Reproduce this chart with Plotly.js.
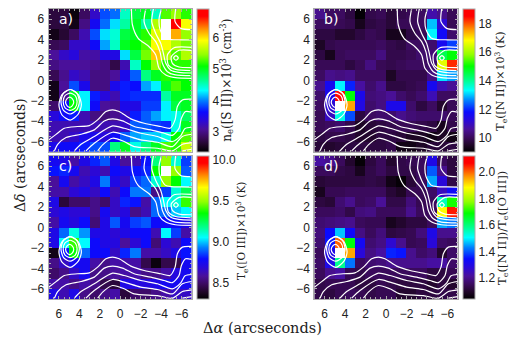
<!DOCTYPE html>
<html><head><meta charset="utf-8">
<script src="https://cdn.plot.ly/plotly-3.0.1.min.js"></script>
<style>html,body{margin:0;padding:0;background:#fff}</style></head>
<body><div id="chart" style="width:519px;height:343px"></div>
<script>
const xCenters=[6.5,5.5,4.5,3.5,2.5,1.5,0.5,-0.5,-1.5,-2.5,-3.5,-4.5,-5.5,-6.5];
const yCenters=[6.5,5.5,4.5,3.5,2.5,1.5,0.5,-0.5,-1.5,-2.5,-3.5,-4.5,-5.5,-6.5];
const tickVals=[6,4,2,0,-2,-4,-6];

const zA=[
[2.7,2.7,2.45,2.85,3.3,3.85,3.95,4.5,4.9,5.0,4.5,5.3,5.5,5.2],
[2.7,2.7,2.5,3.0,3.55,3.95,4.25,4.6,5.0,4.6,5.6,7.5,6.7,5.9],
[2.5,2.65,2.85,3.2,3.85,4.25,4.45,4.9,5.0,5.2,5.8,7.5,6.2,5.5],
[2.8,2.85,3.3,3.3,3.6,4.1,4.5,5.0,5.1,5.3,5.9,5.9,5.6,5.4],
[3.1,3.3,3.4,3.15,3.15,3.45,3.45,4.25,4.9,5.4,6.1,5.6,5.3,5.6],
[3.0,3.1,3.1,3.1,3.05,3.0,2.75,3.2,4.5,5.1,5.5,5.2,5.2,5.2],
[2.8,3.05,3.3,3.2,3.0,3.0,3.1,3.5,3.9,4.7,5.0,5.2,5.1,5.1],
[2.5,3.1,3.85,3.5,3.0,3.0,3.5,3.7,3.65,4.1,4.3,5.0,5.3,5.1],
[2.5,3.05,5.0,4.3,3.7,3.4,3.2,3.7,3.75,3.75,3.75,4.6,5.0,5.0],
[2.9,3.6,5.1,4.3,3.6,3.1,3.05,3.5,3.45,3.8,3.8,4.3,4.9,5.0],
[3.4,3.6,3.7,3.2,3.0,2.95,3.05,3.3,3.7,3.9,4.1,4.3,4.4,4.8],
[3.2,3.2,3.2,3.2,3.2,3.2,3.2,3.3,3.9,3.9,3.8,3.75,4.4,5.0],
[3.2,3.2,3.3,3.5,3.5,3.4,3.6,3.9,4.1,4.2,4.2,4.4,5.1,5.3],
[3.5,3.6,3.6,3.7,3.85,3.85,4.7,5.0,4.4,4.7,5.0,5.3,5.2,5.7]];
const zB=[
[10.5,10.1,10.1,9.8,9.1,9.9,10.0,9.7,9.9,10.0,10.1,10.8,10.5,10.0],
[10.1,10.1,10.0,9.9,9.4,9.8,9.9,9.7,10.0,10.0,10.1,13.0,11.2,10.0],
[9.8,9.8,9.6,9.6,9.8,10.0,9.9,9.4,9.4,9.8,10.0,13.3,11.7,10.2],
[9.5,9.9,10.0,10.0,10.0,10.0,10.1,9.9,9.8,10.1,10.1,10.2,11.6,12.2],
[9.8,9.4,10.0,10.1,10.1,10.1,10.4,9.9,9.9,10.0,10.2,10.3,14.5,15.0],
[10.0,10.0,10.0,9.8,10.0,10.4,10.0,9.9,10.0,10.1,10.1,10.2,16.6,18.3],
[10.1,10.5,10.4,10.5,10.1,10.1,10.1,9.5,9.9,9.9,9.9,10.4,13.2,12.8],
[10.5,11.6,13.3,12.0,10.7,10.2,10.5,9.8,9.8,9.9,10.0,11.6,10.9,10.6],
[10.2,11.5,18.5,15.0,11.5,10.3,10.4,10.6,10.2,10.0,10.2,10.9,10.1,10.1],
[10.1,11.2,20.0,17.5,11.4,10.2,10.4,11.5,11.5,10.2,9.8,10.1,9.6,10.0],
[10.0,11.0,13.5,12.3,9.8,10.1,10.2,10.2,10.5,10.3,10.2,10.2,10.2,10.0],
[10.0,10.1,10.2,9.9,9.5,9.7,9.8,9.9,10.0,10.0,9.9,9.8,9.4,9.9],
[9.8,9.9,9.9,9.8,9.6,9.6,9.8,9.8,9.7,9.5,9.5,9.3,9.5,9.3],
[9.7,9.6,9.7,9.8,9.8,9.8,9.8,9.9,9.3,9.3,9.5,9.7,9.7,9.8]];
const zC=[
[8.75,8.72,8.6,8.72,8.82,8.88,8.72,8.58,8.62,8.8,9.2,9.5,9.1,8.85],
[8.8,8.82,8.75,8.62,8.68,8.62,8.78,8.72,8.8,8.82,9.35,10.5,9.5,8.88],
[8.58,8.75,8.6,8.65,8.72,8.92,8.72,8.65,8.85,8.9,9.1,9.5,9.35,9.05],
[8.6,8.6,8.68,8.72,8.65,8.78,8.62,8.78,8.92,8.92,8.55,8.85,9.1,9.25],
[8.72,8.42,8.5,8.5,8.55,8.5,8.65,8.82,8.8,8.6,8.9,9.05,9.1,9.4],
[8.68,8.72,8.68,8.68,8.55,8.75,8.65,8.7,8.55,8.62,8.9,8.9,9.0,9.05],
[8.6,8.75,8.7,8.78,8.52,8.72,8.88,8.75,8.85,8.88,8.78,8.78,8.78,8.72],
[8.72,8.9,9.08,8.95,8.72,8.72,8.68,8.72,8.78,8.78,8.62,9.05,8.85,8.6],
[8.72,9.05,9.4,9.05,8.78,8.72,8.7,8.58,8.68,8.78,8.52,8.68,8.62,8.78],
[8.35,8.8,9.35,8.9,8.78,8.78,8.65,8.82,8.92,8.6,8.6,8.65,8.72,8.8],
[8.55,8.65,8.75,8.75,8.6,8.55,8.6,8.6,8.6,8.45,8.33,8.45,8.45,8.75],
[8.5,8.55,8.65,8.75,8.55,8.55,8.58,8.6,8.6,8.55,8.55,8.6,8.7,8.75],
[8.6,8.6,8.55,8.6,8.55,8.45,8.42,8.72,8.7,8.7,8.72,8.75,8.75,8.75],
[8.72,8.62,8.72,8.55,8.5,8.55,8.6,8.42,8.5,8.5,8.55,8.6,8.65,8.65]];
const zD=[
[1.22,1.2,1.15,1.1,1.05,1.12,1.15,1.1,1.13,1.14,1.15,1.3,1.15,1.12],
[1.15,1.15,1.13,1.12,1.08,1.13,1.15,1.12,1.13,1.13,1.15,1.4,1.2,1.12],
[1.11,1.12,1.12,1.12,1.12,1.13,1.12,1.07,1.05,1.11,1.15,1.45,1.28,1.13],
[1.08,1.14,1.14,1.15,1.15,1.15,1.15,1.11,1.09,1.14,1.14,1.16,1.25,1.33],
[1.12,1.11,1.17,1.2,1.15,1.16,1.21,1.13,1.13,1.18,1.14,1.15,1.55,1.7],
[1.15,1.15,1.16,1.13,1.18,1.19,1.15,1.15,1.15,1.2,1.15,1.15,1.88,2.05],
[1.17,1.18,1.19,1.2,1.15,1.14,1.14,1.08,1.1,1.12,1.12,1.15,1.45,1.42],
[1.18,1.34,1.47,1.33,1.19,1.15,1.18,1.12,1.13,1.14,1.18,1.3,1.2,1.2],
[1.17,1.35,2.0,1.68,1.32,1.17,1.19,1.27,1.2,1.14,1.15,1.28,1.16,1.15],
[1.15,1.3,2.3,1.95,1.28,1.19,1.22,1.36,1.35,1.2,1.16,1.18,1.1,1.16],
[1.16,1.3,1.58,1.42,1.15,1.17,1.18,1.2,1.2,1.2,1.2,1.22,1.22,1.16],
[1.15,1.2,1.22,1.14,1.13,1.15,1.15,1.15,1.15,1.15,1.15,1.12,1.12,1.14],
[1.13,1.14,1.14,1.14,1.12,1.12,1.14,1.13,1.12,1.12,1.12,1.1,1.12,1.1],
[1.13,1.12,1.14,1.15,1.14,1.13,1.14,1.14,1.1,1.1,1.12,1.12,1.13,1.13]];

const rangeA=[2.37,6.93], rangeB=[9.04,19.05], rangeC=[8.30,10.05], rangeD=[1.04,2.12];
const ticksA=[3,4,5,6], ticksB=[10,12,14,16,18], ticksC=[8.5,9.0,9.5,10.0], ticksD=[1.2,1.4,1.6,1.8,2.0];
const fmtC=['8.5','9.0','9.5','10.0'], fmtD=['1.2','1.4','1.6','1.8','2.0'];
const labelA='n<sub>e</sub>([S II])×10<sup>3</sup> (cm<sup>-3</sup>)';
const labelB='T<sub>e</sub>([N II])×10<sup>3</sup> (K)';
const labelC='T<sub>e</sub>([O III])×10<sup>3</sup> (K)';
const labelD='T<sub>e</sub>([N II])/T<sub>e</sub>([O III])';

// contour levels, in arcseconds
const contours=[
 [[-1.1,-1.2,-1.76,-2.83,-3.48,-3.8,-4.46,-5.4,-7],[7,5.43,4.12,3.3,2.49,1.18,0.53,0.27,0.2]],
 [[-2.5,-2.34,-2.83,-3.48,-3.9,-4.13,-4.62,-5.4,-7],[7,5.76,4.6,3.8,2.8,1.67,0.85,0.53,0.46]],
 [[-3.25,-3.09,-3.48,-3.97,-4.23,-4.46,-4.95,-5.76,-7],[7,5.76,4.6,3.63,2.65,1.67,1.0,0.79,0.72]],
 [[-4.04,-3.81,-3.9,-4.4,-5.0,-6,-7],[7,6.08,5.0,4.15,4.0,3.98,3.96]],
 [[-5.43,-5.37,-5.92,-7],[7,5.76,5.1,4.97]],
 [[-7,-5.27,-4.62,-4.72,-5.43,-7],[3.24,3.2,2.49,1.5,1.08,0.95]],
 [[-7,-5.76,-5.0,-5.11,-5.76,-7],[2.95,2.95,2.32,1.67,1.31,1.25]],
 [[-5.23,-5.46,-5.69,-5.46,-5.23],[2.2,2.43,2.2,1.97,2.2]],
 [[6.0,5.7,4.9,4.1,3.8,4.1,4.9,5.7,6.0],[-2.4,-1.4,-0.9,-1.4,-2.4,-3.3,-3.9,-3.4,-2.4]],
 [[5.8,5.55,4.9,4.25,4.0,4.25,4.9,5.55,5.8],[-2.1,-1.25,-0.9,-1.25,-2.1,-2.9,-3.3,-2.95,-2.1]],
 [[5.58,5.4,4.9,4.4,4.22,4.4,4.9,5.4,5.58],[-2.1,-1.5,-1.25,-1.5,-2.1,-2.7,-2.95,-2.7,-2.1]],
 [[5.35,5.2,4.95,4.7,4.55,4.7,4.95,5.2,5.35],[-2.15,-1.8,-1.65,-1.8,-2.15,-2.5,-2.65,-2.5,-2.15]],
 [[-7,-6.09,-5.6,-5.37,-4.88,-3.97,-2.35,-1.04,0.1,0.75,1.4,2.21,3.03,4.17,5.47,6.28,7],
  [-1.85,-1.92,-2.57,-3.88,-4.7,-4.53,-4.21,-3.78,-3.06,-2.9,-3.06,-3.88,-4.44,-4.53,-4.7,-5.3,-5.84]],
 [[-7,-6.4,-5.99,-5.76,-5.11,-4.3,-3,-1.37,-0.23,0.75,1.56,2.54,3.84,5.3,6.12,6.44],
  [-3.13,-3.06,-3.72,-4.7,-5.4,-5.19,-4.86,-4.53,-3.98,-3.78,-3.98,-4.86,-5.29,-5.61,-6.27,-6.92]],
 [[-7,-6.35,-5.93,-5.11,-3.65,-2.02,-0.39,0.75,2.54,3.84,4.49],
  [-4.6,-4.72,-5.42,-6.0,-5.51,-5.19,-4.7,-4.47,-5.51,-6.27,-6.92]],
 [[-7,-6.09,-5.11,-3.65,-2.02,-0.39,0.75,2.54,3.35],
  [-5.29,-5.51,-6.5,-6.07,-5.84,-5.35,-5.09,-6.17,-6.92]],
 [[-7,-6.09,-5.11,-3.65,-1.37,-0.39,0.75,1.72,2.2],
  [-6.1,-6.27,-6.92,-6.66,-6.5,-6.0,-5.68,-6.33,-6.92]],
 [[-7,-6.09],[-6.76,-6.92]]
];

const rainbow=[[0,'#000000'],[0.05,'#200628'],[0.1,'#3a0a5a'],[0.16,'#4a109a'],[0.22,'#2a08d8'],[0.28,'#0a0aff'],
 [0.36,'#0080ff'],[0.43,'#00ffff'],[0.5,'#00ff90'],[0.6,'#00ff00'],[0.68,'#90ff00'],[0.78,'#ffff00'],[0.86,'#ff9000'],[0.95,'#ff0000'],[1,'#ff0000']];

const W=519,H=343;
const panels=[
 {z:zA,range:rangeA,ticks:ticksA,fmt:null,xd:[48.7,191.7],yd:[9,151.7],cbx:196.7,xa:'x',ya:'y',tag:'a)',label:labelA,lx:226.7,ly:80,ls:12},
 {z:zB,range:rangeB,ticks:ticksB,fmt:null,xd:[314.3,457.7],yd:[9,151.7],cbx:463,xa:'x2',ya:'y2',tag:'b)',label:labelB,lx:500.7,ly:81,ls:11},
 {z:zC,range:rangeC,ticks:ticksC,fmt:fmtC,xd:[48.7,191.7],yd:[156,299],cbx:196.7,xa:'x3',ya:'y3',tag:'c)',label:labelC,lx:242,ly:231,ls:10.5},
 {z:zD,range:rangeD,ticks:ticksD,fmt:fmtD,xd:[314.3,457.7],yd:[156,299],cbx:463,xa:'x4',ya:'y4',tag:'d)',label:labelD,lx:502,ly:228,ls:11.5}
];
const axisFont={family:'Liberation Sans, Arial, sans-serif',size:12,color:'#222'};
const traces=[],annotations=[];
const layout={width:W,height:H,margin:{l:0,r:0,t:0,b:0},paper_bgcolor:'#fff',plot_bgcolor:'#fff',showlegend:false,annotations};

panels.forEach((p,i)=>{
 const sfx=i===0?'':String(i+1);
 traces.push({type:'heatmap',x:xCenters,y:yCenters,z:p.z,xaxis:p.xa,yaxis:p.ya,colorscale:rainbow,zmin:p.range[0],zmax:p.range[1],hoverinfo:'skip',
  colorbar:{x:p.cbx/W,xanchor:'left',xpad:0,ypad:0,y:1-p.yd[1]/H,yanchor:'bottom',len:(p.yd[1]-p.yd[0])/H,lenmode:'fraction',thickness:11.5,thicknessmode:'pixels',
   tickmode:'array',tickvals:p.ticks,ticktext:p.fmt||p.ticks.map(String),ticks:'',tickfont:axisFont,outlinecolor:'#aaa',outlinewidth:1,borderwidth:0}});
 traces.push({type:'heatmap',x:xCenters,y:yCenters,z:p.z.map(r=>r.map(v=>v>p.range[1]?1:null)),xaxis:p.xa,yaxis:p.ya,
  colorscale:[[0,'#ffffff'],[1,'#ffffff']],showscale:false,zmin:0,zmax:1,hoverinfo:'skip'});
 contours.forEach(c=>traces.push({type:'scatter',mode:'lines',x:c[0],y:c[1],xaxis:p.xa,yaxis:p.ya,hoverinfo:'skip',
  line:{color:'#fff',width:1.2,shape:'spline',smoothing:0.7}}));
 const common={showgrid:false,zeroline:false,showline:true,linecolor:'#aaa',linewidth:1,mirror:'allticks',ticks:'inside',ticklen:3,tickwidth:1,tickcolor:'#aaa',
  tickmode:'array',tickvals:tickVals,tickfont:axisFont,
  minor:{dtick:0.5,ticks:'inside',ticklen:2,tickcolor:'#aaa',tickwidth:1,showgrid:false}};
 layout['xaxis'+sfx]=Object.assign({},common,{domain:[p.xd[0]/W,p.xd[1]/W],range:[7,-7],anchor:p.ya,showticklabels:i>=2,ticklabelstandoff:4});
 layout['yaxis'+sfx]=Object.assign({},common,{domain:[1-p.yd[1]/H,1-p.yd[0]/H],range:[-7,7],anchor:p.xa,ticklabelstandoff:1});
 annotations.push({xref:p.xa,yref:p.ya,x:6.2,y:6.0,xanchor:'left',yanchor:'middle',text:p.tag,showarrow:false,font:{family:'DejaVu Sans',size:14,color:'#fff'}});
 annotations.push({xref:'paper',yref:'paper',x:p.lx/W,y:1-p.ly/H,xanchor:'center',yanchor:'middle',text:p.label,textangle:-90,showarrow:false,font:{family:'DejaVu Serif',size:p.ls,color:'#222'}});
});
annotations.push({xref:'paper',yref:'paper',x:20/W,y:1-155/H,xanchor:'center',yanchor:'middle',text:'Δ<i>δ</i> (arcseconds)',textangle:-90,showarrow:false,font:{family:'DejaVu Serif',size:14,color:'#222'}});
annotations.push({xref:'paper',yref:'paper',x:262/W,y:1-328/H,xanchor:'center',yanchor:'middle',text:'Δ<i>α</i> (arcseconds)',showarrow:false,font:{family:'DejaVu Serif',size:14.5,color:'#222'}});

Plotly.newPlot('chart',traces,layout,{displayModeBar:false,staticPlot:true});
</script></body></html>
